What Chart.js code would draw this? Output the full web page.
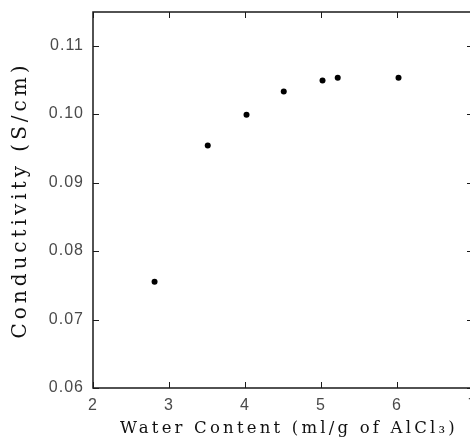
<!DOCTYPE html>
<html>
<head>
<meta charset="utf-8">
<script src="https://cdn.jsdelivr.net/npm/chart.js@4"></script>
<style>
  html, body { margin: 0; padding: 0; background: #fff; overflow: hidden; }
  #wrap { width: 480px; height: 443px; }
</style>
</head>
<body>
<div id="wrap"><canvas id="c" width="480" height="443"></canvas></div>
<script>
// Data
const waterContent = [2.81, 3.51, 4.02, 4.51, 5.02, 5.22, 6.02];
const conductivity = [0.0755, 0.0954, 0.0999, 0.1033, 0.1049, 0.1053, 0.1053];
const xTicks = [2, 3, 4, 5, 6, 7];
const yTicks = [0.06, 0.07, 0.08, 0.09, 0.10, 0.11];
const xTitle = 'Water Content (ml/g of AlCl\u2083)';
const yTitle = 'Conductivity (S/cm)';

const points = waterContent.map((x, i) => ({ x: x, y: conductivity[i] }));

const frameColor = '#1a1a1a';
const tickLabelColor = '#4a4a4a';
const xTitleFont = { family: '"DejaVu Serif", serif', size: 16.5 };
const yTitleFont = { family: '"DejaVu Serif", serif', size: 20 };
const tickFont = { family: '"Liberation Sans", Arial, sans-serif', size: 16 };

// Wider letter spacing for the scanned-look text
const spacingPlugin = {
  id: 'spacing',
  beforeDraw(chart) {
    const ctx = chart.ctx;
    const cfg = { x: { title: '3.2px', shift: 6 }, y: { title: '4px', shift: 0 } };
    Object.values(chart.scales).forEach(s => {
      if (s._spaced) return;
      s._spaced = true;
      const c = cfg[s.id];
      const t = s.drawTitle.bind(s), l = s.drawLabels.bind(s);
      s.drawTitle = function (...args) {
        ctx.save(); ctx.letterSpacing = c.title; ctx.translate(c.shift, 0); t(...args); ctx.restore();
      };
      s.drawLabels = function (...args) {
        ctx.save(); ctx.letterSpacing = '1px'; l(...args); ctx.restore();
      };
    });
  }
};

// Frame with inward ticks drawn at the library's tick positions
const framePlugin = {
  id: 'frame',
  afterDraw(chart) {
    const { ctx, chartArea: a, scales } = chart;
    const xs = scales.x, ys = scales.y;
    const L = 6;
    ctx.save();
    ctx.strokeStyle = frameColor;
    ctx.lineWidth = 1.5;
    ctx.beginPath();
    ctx.rect(a.left, a.top, a.right - a.left, a.bottom - a.top);
    ctx.stroke();
    ctx.lineWidth = 1;
    ctx.beginPath();
    xs.ticks.forEach(t => {
      const px = Math.round(xs.getPixelForValue(t.value)) + 0.5;
      ctx.moveTo(px, a.bottom); ctx.lineTo(px, a.bottom - L);
      ctx.moveTo(px, a.top); ctx.lineTo(px, a.top + L);
    });
    ys.ticks.forEach(t => {
      const py = Math.round(ys.getPixelForValue(t.value)) + 0.5;
      ctx.moveTo(a.left, py); ctx.lineTo(a.left + L, py);
      ctx.moveTo(a.right, py); ctx.lineTo(a.right - L, py);
    });
    ctx.stroke();
    ctx.restore();
  }
};

new Chart(document.getElementById('c'), {
  type: 'scatter',
  data: {
    datasets: [{
      data: points,
      backgroundColor: '#000',
      borderColor: '#000',
      pointRadius: 3,
      pointHoverRadius: 3,
      borderWidth: 0
    }]
  },
  options: {
    responsive: false,
    animation: false,
    events: [],
    layout: { padding: { top: 12, right: 7, left: 0, bottom: 0 } },
    plugins: { legend: { display: false }, tooltip: { enabled: false } },
    scales: {
      x: {
        type: 'linear',
        min: 2, max: 7,
        afterBuildTicks: s => { s.ticks = xTicks.map(v => ({ value: v })); },
        afterFit: s => { s.height = 55; s.paddingLeft = 0; s.paddingRight = 0; },
        grid: { display: false, drawTicks: false },
        border: { display: false },
        ticks: { color: tickLabelColor, font: tickFont, padding: 8, maxRotation: 0,
                 callback: v => String(v) },
        title: { display: true, text: xTitle, color: '#111', font: xTitleFont,
                 padding: { top: 0, bottom: 4 } }
      },
      y: {
        type: 'linear',
        min: 0.06, max: 0.1149,
        afterBuildTicks: s => { s.ticks = yTicks.map(v => ({ value: v })); },
        afterFit: s => { s.width = 93; s.paddingTop = 0; s.paddingBottom = 0; },
        grid: { display: false, drawTicks: false },
        border: { display: false },
        ticks: { color: tickLabelColor, font: tickFont, padding: 9,
                 callback: v => v.toFixed(2) },
        title: { display: true, text: yTitle, color: '#111', font: yTitleFont,
                 padding: { top: 9, bottom: 0 } }
      }
    }
  },
  plugins: [spacingPlugin, framePlugin]
});
</script>
</body>
</html>
